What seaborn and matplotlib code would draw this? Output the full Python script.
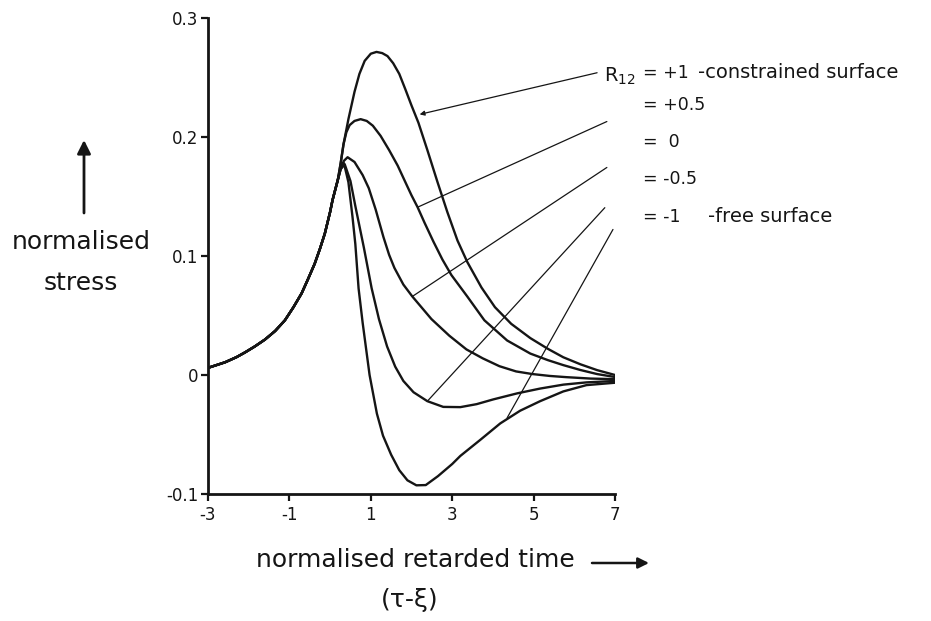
import matplotlib
matplotlib.use("Agg")
import matplotlib.pyplot as plt
import pandas as pd
import seaborn as sns

# ---- data (normalised retarded time, normalised stress)
common_t = [-3.0, -2.58, -2.3, -2.09, -1.85, -1.60, -1.35, -1.11, -0.90, -0.70, -0.55, -0.38,
            -0.25, -0.13, 0.0, 0.06, 0.19]
common_s = [0.006, 0.0107, 0.015, 0.019, 0.024, 0.0298, 0.037, 0.046, 0.057, 0.0686, 0.080,
            0.0934, 0.106, 0.1188, 0.137, 0.147, 0.164]

r_p1_t = [0.26, 0.33, 0.45, 0.60, 0.72, 0.85, 1.0, 1.14, 1.28, 1.41, 1.55, 1.70, 1.85, 2.0,
          2.17, 2.39, 2.64, 2.88, 3.13, 3.37, 3.72, 4.05, 4.45, 4.92, 5.35, 5.73, 6.15, 6.56, 7.0]
r_p1_s = [0.178, 0.194, 0.215, 0.238, 0.253, 0.264, 0.270, 0.2715, 0.2705, 0.268, 0.262, 0.253,
          0.240, 0.2265, 0.212, 0.189, 0.162, 0.137, 0.113, 0.095, 0.0735, 0.057, 0.043, 0.031,
          0.022, 0.0149, 0.009, 0.0041, 0.0]

r_p05_t = [0.26, 0.33, 0.40, 0.48, 0.60, 0.75, 0.90, 1.05, 1.24, 1.45, 1.66, 1.85, 2.0, 2.15,
           2.32, 2.54, 2.76, 2.98, 3.37, 3.79, 4.35, 4.92, 5.35, 5.73, 6.15, 6.56, 7.0]
r_p05_s = [0.178, 0.194, 0.204, 0.210, 0.2135, 0.215, 0.2135, 0.2095, 0.201, 0.189, 0.176, 0.162,
           0.151, 0.141, 0.128, 0.112, 0.097, 0.084, 0.066, 0.046, 0.029, 0.018, 0.0125, 0.0083,
           0.0042, 0.0008, -0.0017]

r_0_t = [0.26, 0.34, 0.43, 0.60, 0.80, 0.95, 1.12, 1.31, 1.45, 1.58, 1.80, 2.02, 2.49, 2.93,
         3.35, 3.75, 4.16, 4.57, 4.97, 5.40, 5.80, 6.40, 7.0]
r_0_s = [0.174, 0.180, 0.183, 0.179, 0.168, 0.157, 0.139, 0.116, 0.101, 0.090, 0.076, 0.066,
         0.047, 0.033, 0.0215, 0.014, 0.0074, 0.003, 0.0008, -0.0008, -0.0018, -0.003, -0.0035]

r_m05_t = [0.26, 0.36, 0.50, 0.62, 0.83, 1.02, 1.20, 1.40, 1.60, 1.80, 2.05, 2.39, 2.78, 3.20,
           3.60, 4.01, 4.60, 5.16, 5.73, 6.30, 7.0]
r_m05_s = [0.173, 0.177, 0.163, 0.142, 0.107, 0.073, 0.047, 0.024, 0.007, -0.005, -0.0145, -0.022,
           -0.0268, -0.027, -0.0245, -0.0205, -0.0154, -0.0114, -0.0081, -0.0062, -0.005]

r_m1_t = [0.26, 0.34, 0.45, 0.55, 0.62, 0.70, 0.80, 0.97, 1.15, 1.30, 1.50, 1.70, 1.90, 2.12,
          2.35, 2.65, 3.0, 3.2, 3.69, 4.18, 4.67, 5.16, 5.73, 6.30, 7.0]
r_m1_s = [0.173, 0.178, 0.162, 0.133, 0.110, 0.0727, 0.0438, 0.0, -0.0325, -0.051, -0.067, -0.080,
          -0.0885, -0.0927, -0.0925, -0.085, -0.0748, -0.068, -0.0545, -0.0407, -0.030, -0.022,
          -0.0138, -0.0085, -0.0065]

series_names = ["+1", "+0.5", "0", "-0.5", "-1"]
series_t = [r_p1_t, r_p05_t, r_0_t, r_m05_t, r_m1_t]
series_s = [r_p1_s, r_p05_s, r_0_s, r_m05_s, r_m1_s]

x_ticks = [-3, -1, 1, 3, 5, 7]
x_tick_labels = ["-3", "-1", "1", "3", "5", "7"]
y_ticks = [-0.1, 0, 0.1, 0.2, 0.3]
y_tick_labels = ["-0.1", "0", "0.1", "0.2", "0.3"]

label_texts = ["= +1", "= +0.5", "=  0", "= -0.5", "= -1"]
label_notes = {0: "-constrained surface", 4: "-free surface"}

# leader lines: (start near label, end on curve) in data units
leaders = [((6.56, 0.254), (2.20, 0.219)),
           ((6.80, 0.213), (2.15, 0.141)),
           ((6.80, 0.1744), (2.02, 0.066)),
           ((6.75, 0.1406), (2.39, -0.022)),
           ((6.95, 0.1223), (4.35, -0.036))]

rows = []
for name, t, s in zip(series_names, series_t, series_s):
    for a, b in zip(common_t + t, common_s + s):
        rows.append((name, a, b))
df = pd.DataFrame(rows, columns=["R12", "t", "stress"])

sns.set_theme(style="ticks")
plt.rcParams["font.family"] = ["DejaVu Sans"]
plt.rcParams["axes.unicode_minus"] = False
plt.rcParams["lines.solid_joinstyle"] = "round"

W, H = 931, 621
ink = "#151515"
fig = plt.figure(figsize=(W / 100, H / 100), dpi=100)
ax = fig.add_axes([208 / W, 1 - 494 / H, 407 / W, (494 - 18) / H])

sns.lineplot(data=df, x="t", y="stress", hue="R12", palette=[ink] * 5,
             estimator=None, sort=False, legend=False, linewidth=1.7, ax=ax)

ax.set_xlim(-3, 7)
ax.set_ylim(-0.1, 0.3)
ax.set_xticks(x_ticks)
ax.set_xticklabels(x_tick_labels)
ax.set_yticks(y_ticks)
ax.set_yticklabels(y_tick_labels)
ax.set_xlabel("")
ax.set_ylabel("")
for sp in ["top", "right"]:
    ax.spines[sp].set_visible(False)
for sp in ["left", "bottom"]:
    ax.spines[sp].set_linewidth(2.0)
    ax.spines[sp].set_color(ink)
ax.tick_params(direction="out", length=5, width=1.6, colors=ink, labelsize=12, pad=2)
ax.tick_params(axis="x", pad=4)

for i, (start, end) in enumerate(leaders):
    ax.annotate("", xy=end, xytext=start, xycoords="data", annotation_clip=False,
                arrowprops=dict(arrowstyle="-|>" if i == 0 else "-", mutation_scale=7,
                                lw=0.9, color=ink, shrinkA=0, shrinkB=0))


def fx(px):
    return px / W


def fy(py):
    return 1 - py / H


# right-hand labels
label_rows = [73, 105, 142, 179, 217]
fig.text(fx(636), fy(76), "R$_{12}$", ha="right", va="center", fontsize=14, color=ink)
for txt, py in zip(label_texts, label_rows):
    fig.text(fx(643), fy(py), txt, ha="left", va="center", fontsize=12.5, color=ink)
fig.text(fx(698), fy(label_rows[0]), label_notes[0], ha="left", va="center", fontsize=14, color=ink)
fig.text(fx(708), fy(label_rows[4]), label_notes[4], ha="left", va="center", fontsize=14, color=ink)

# axis titles
fig.text(fx(81), fy(242), "normalised", ha="center", va="center", fontsize=18, color=ink)
fig.text(fx(81), fy(283), "stress", ha="center", va="center", fontsize=18, color=ink)
fig.text(fx(415), fy(560), "normalised retarded time", ha="center", va="center", fontsize=18, color=ink)
fig.text(fx(410), fy(600), "(τ-ξ)", ha="center", va="center", fontsize=18, color=ink)

ax.annotate("", xy=(fx(84), fy(140)), xytext=(fx(84), fy(213)), xycoords="figure fraction",
            textcoords="figure fraction", annotation_clip=False,
            arrowprops=dict(arrowstyle="-|>", lw=2.0, mutation_scale=20, color=ink,
                            shrinkA=0, shrinkB=0))
ax.annotate("", xy=(fx(649), fy(563)), xytext=(fx(592), fy(563)), xycoords="figure fraction",
            textcoords="figure fraction", annotation_clip=False,
            arrowprops=dict(arrowstyle="-|>", lw=1.8, mutation_scale=16, color=ink,
                            shrinkA=0, shrinkB=0))

fig.savefig("out.png", dpi=100, facecolor="white")
